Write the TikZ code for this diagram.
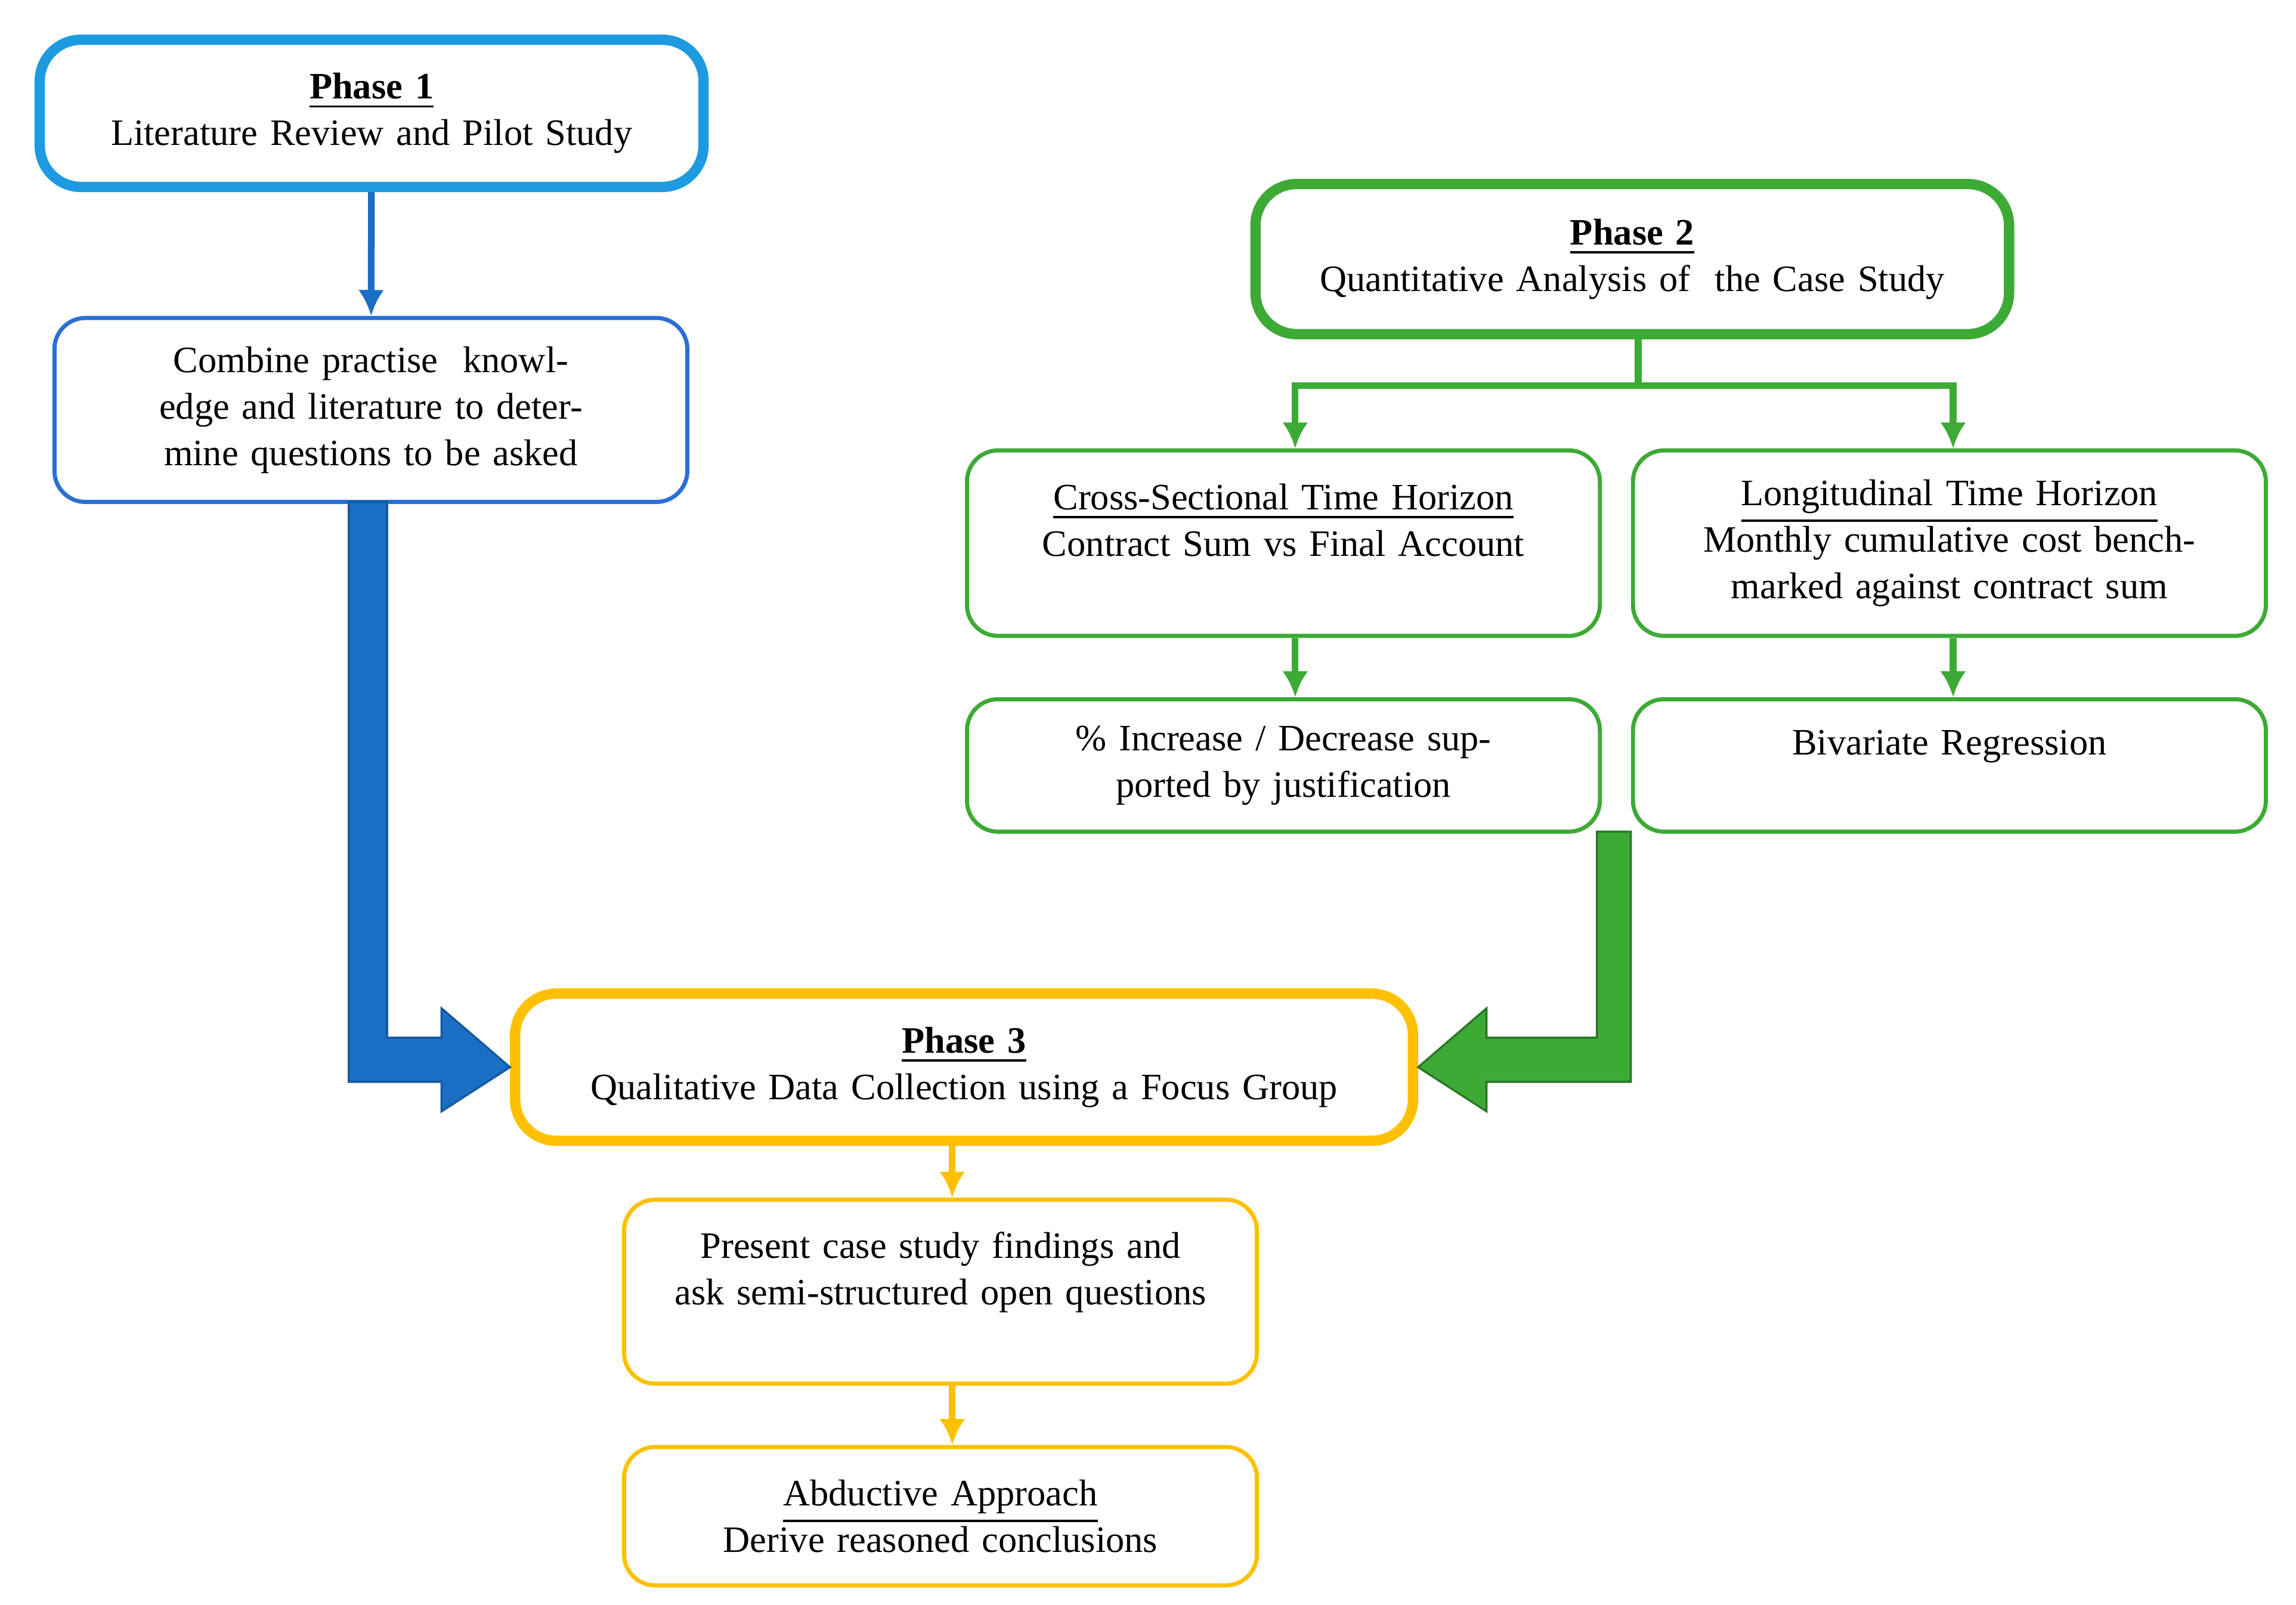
\documentclass[tikz,border=0pt]{standalone}
\usepackage{fontspec}
\setmainfont{Liberation Serif}
\usetikzlibrary{arrows.meta}
\definecolor{phaseblue}{HTML}{1E9BE0}
\definecolor{boxblue}{HTML}{2A6FD6}
\definecolor{arrblue}{HTML}{1A6FC4}
\definecolor{phasegreen}{HTML}{3DAA35}
\definecolor{phaseyellow}{HTML}{FFC000}
\tikzset{
  box/.style={draw, rounded corners=6pt, align=center, text width=#1, inner sep=2pt,
    font=\fontsize{7.2}{9}\selectfont},
  phase/.style={box=#1, line width=2pt, rounded corners=8pt},
  step/.style={box=#1, line width=0.8pt},
  link/.style={line width=1.3pt, -{Latex[length=5pt,width=5pt]}}
}
\begin{document}
\begin{tikzpicture}
  \useasboundingbox (0,0) rectangle (15.6,10.9);
  % phase 1
  \node [phase=4.3cm, draw=phaseblue, minimum width=4.51cm, minimum height=1.0cm] (p1) at (2.525,10.13)
    {\underline{\textbf{Phase 1}}\\Literature Review and Pilot Study};
  \node [step=4.1cm, draw=boxblue, minimum width=4.3cm, minimum height=1.25cm] (comb) at (2.52,8.115)
    {Combine practise\ \ knowledge and literature to determine questions to be asked};
  \draw [link, arrblue] (p1) -- (comb);
  % phase 2
  \node [phase=4.9cm, draw=phasegreen, minimum width=5.12cm, minimum height=1.02cm] (p2) at (11.09,9.14)
    {\underline{\textbf{Phase 2}}\\Quantitative Analysis of\ \ the Case Study};
  \node [step=4.1cm, draw=phasegreen, minimum width=4.3cm, minimum height=1.26cm] (cross) at (8.72,7.21)
    {\underline{Cross-Sectional Time Horizon}\\Contract Sum vs Final Account\\ \mbox{}};
  \node [step=4.1cm, draw=phasegreen, minimum width=4.3cm, minimum height=1.26cm] (long) at (13.245,7.21)
    {\underline{Longitudinal Time Horizon}\\Monthly cumulative cost benchmarked against contract sum};
  \node [step=4.1cm, draw=phasegreen, minimum width=4.3cm, minimum height=0.9cm] (pct) at (8.72,5.70)
    {\% Increase / Decrease supported by justification};
  \node [step=4.1cm, draw=phasegreen, minimum width=4.3cm, minimum height=0.9cm] (biv) at (13.245,5.70)
    {Bivariate Regression\\ \mbox{}};
  \coordinate (split) at (11.13,8.28);
  \draw [line width=1.3pt, phasegreen] (p2.south -| split) -- (split);
  \draw [link, phasegreen] (split) -| (cross.north -| 8.80,0);
  \draw [link, phasegreen] (split) -| (long.north -| 13.27,0);
  \draw [link, phasegreen] (cross.south -| 8.80,0) -- (pct.north -| 8.80,0);
  \draw [link, phasegreen] (long.south -| 13.27,0) -- (biv.north -| 13.27,0);
  % phase 3
  \node [phase=5.9cm, draw=phaseyellow, minimum width=6.1cm, minimum height=1.0cm] (p3) at (6.55,3.65)
    {\underline{\textbf{Phase 3}}\\Qualitative Data Collection using a Focus Group};
  \node [step=4.1cm, draw=phaseyellow, minimum width=4.3cm, minimum height=1.25cm] (pres) at (6.39,2.125)
    {Present case study findings and ask semi-structured open questions\\ \mbox{}};
  \node [step=4.1cm, draw=phaseyellow, minimum width=4.3cm, minimum height=0.94cm] (abd) at (6.39,0.60)
    {\underline{Abductive Approach}\\Derive reasoned conclusions};
  \draw [link, phaseyellow] (p3.south -| 6.47,0) -- (pres.north -| 6.47,0);
  \draw [link, phaseyellow] (pres.south -| 6.47,0) -- (abd.north -| 6.47,0);
  % block arrows
  \draw [fill=arrblue, draw=arrblue!80!black] (2.37,7.49) -- (2.63,7.49) -- (2.63,3.85) -- (3.00,3.85)
    -- (3.00,4.05) -- (p3.west) -- (3.00,3.35) -- (3.00,3.55) -- (2.37,3.55) -- cycle;
  \draw [fill=phasegreen, draw=phasegreen!70!black] (10.85,5.25) -- (11.08,5.25) -- (11.08,3.55) -- (10.10,3.55)
    -- (10.10,3.35) -- (p3.east) -- (10.10,4.05) -- (10.10,3.85) -- (10.85,3.85) -- cycle;
\end{tikzpicture}
\end{document}
